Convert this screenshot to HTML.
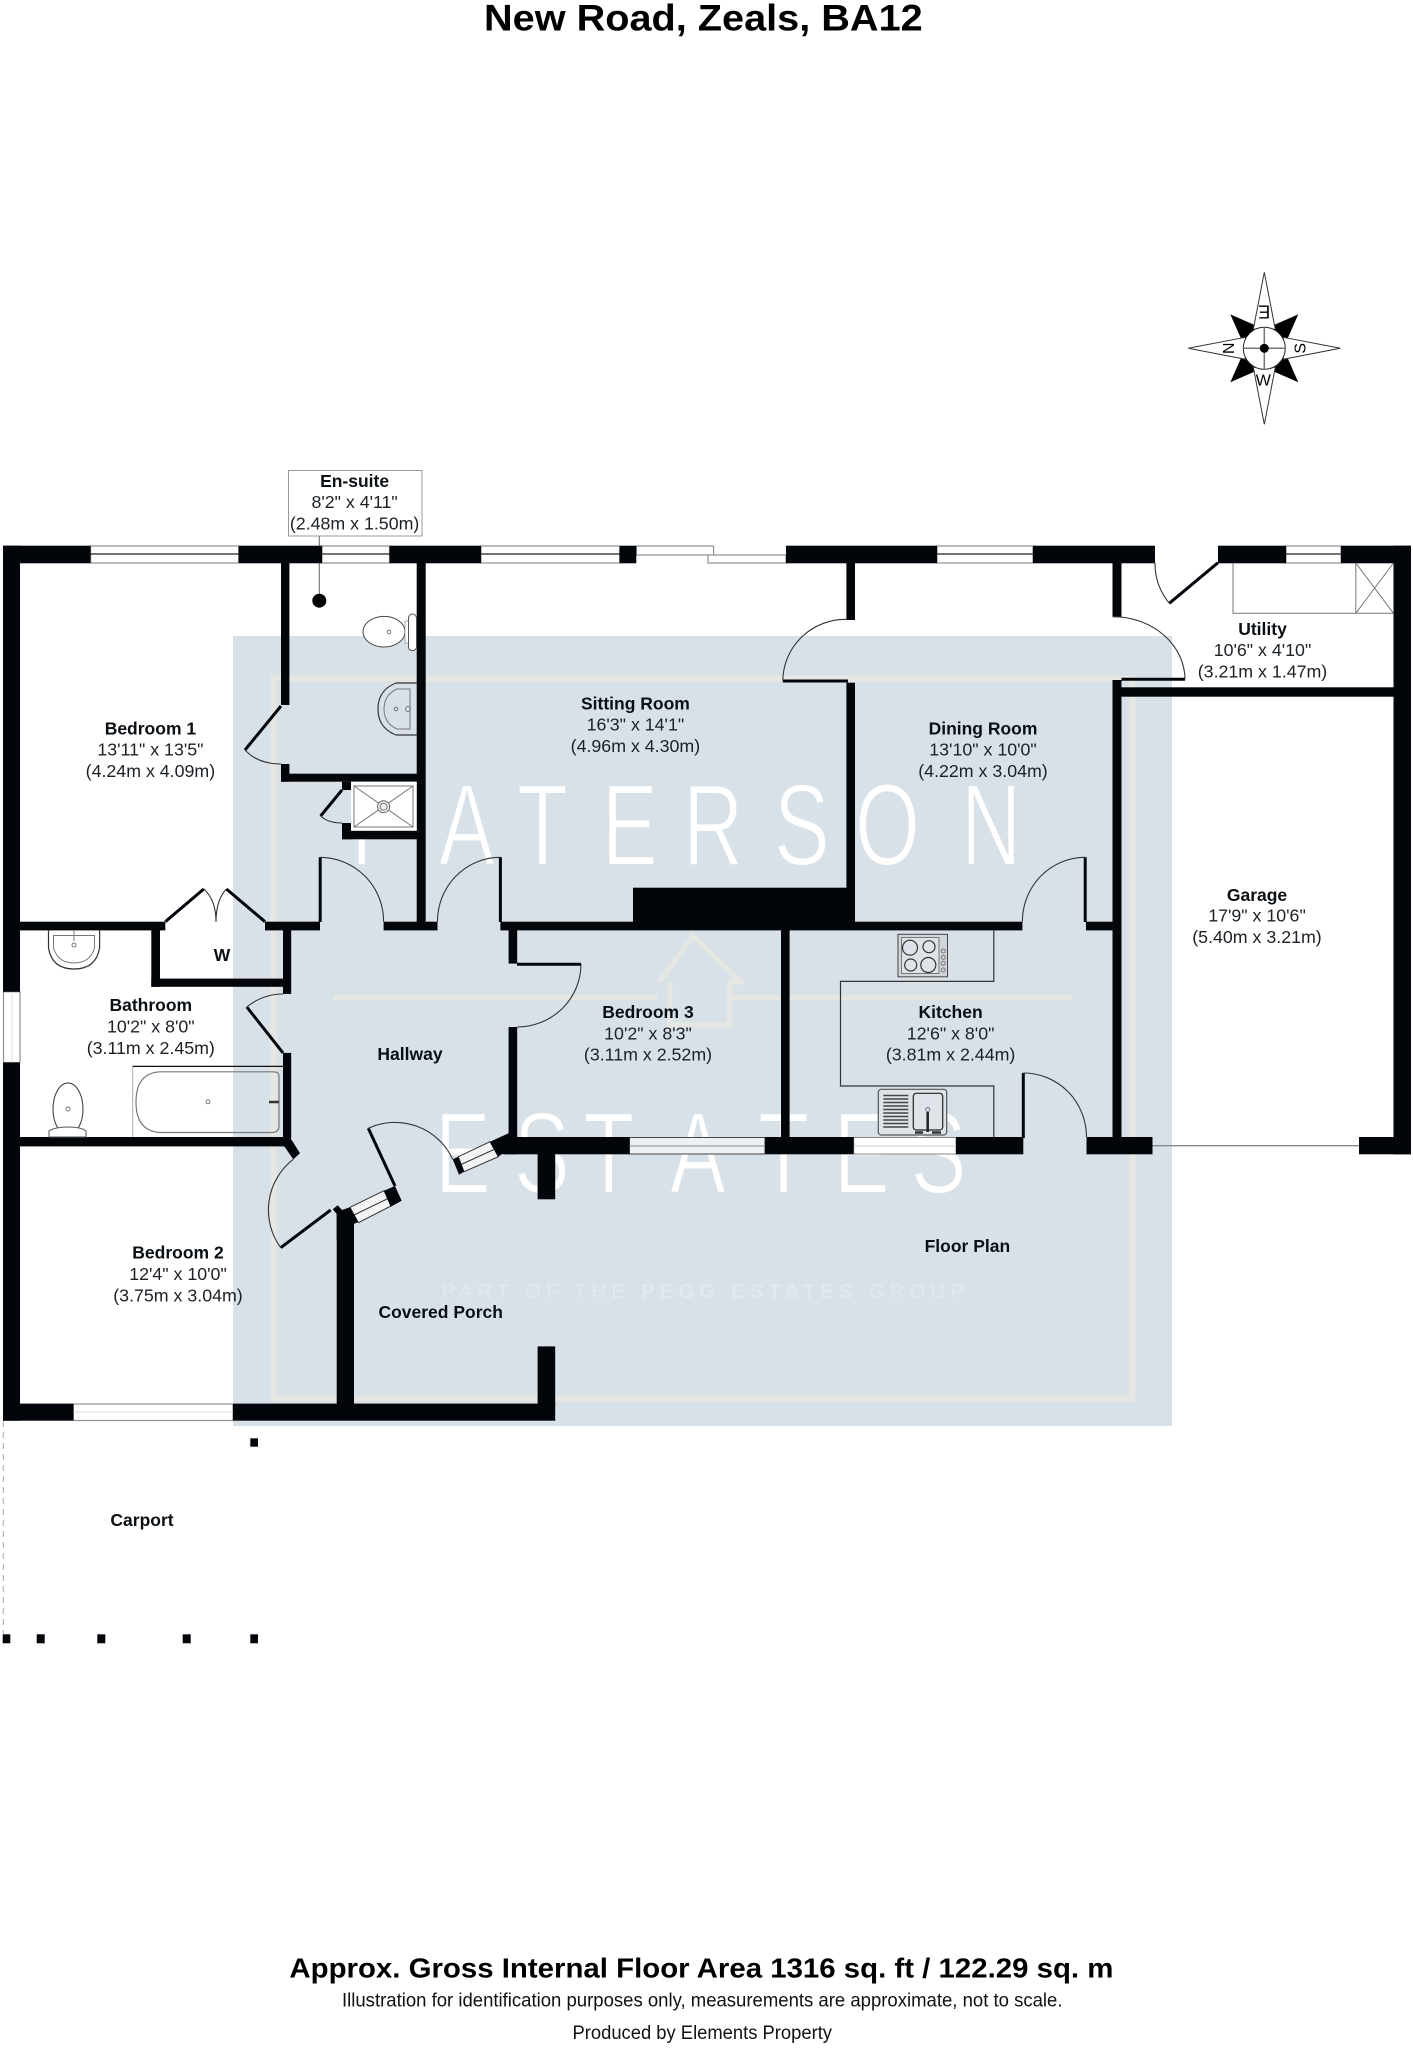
<!DOCTYPE html>
<html lang="en"><head><meta charset="utf-8"><title>New Road, Zeals, BA12</title>
<style>
html,body{margin:0;padding:0;background:#fff;width:1413px;height:2048px;overflow:hidden}
svg{display:block}
text{font-family:"Liberation Sans",sans-serif;fill:#0a0f14}
.n{font-weight:bold;font-size:17.5px;text-anchor:middle}
.d{font-size:17.8px;text-anchor:middle;fill:#1c2126}
.w{fill:#02060a}
.win{fill:#fff;stroke:#8d9194;stroke-width:1.2}
.m{stroke:#222;stroke-width:1.2;fill:none}
.arc{fill:none;stroke:#333;stroke-width:1.1}
.leaf{fill:none;stroke:#02060a;stroke-width:3}
.g{fill:none;stroke:#777;stroke-width:1}
.k{fill:none;stroke:#333;stroke-width:1.2}
</style></head><body>
<svg xmlns="http://www.w3.org/2000/svg" width="1413" height="2048" viewBox="0 0 1413 2048">
<rect width="1413" height="2048" fill="#fff"/>

<!-- watermark -->
<rect x="233" y="636" width="939" height="790" fill="#d9e1e8"/>
<rect x="273.5" y="678.5" width="859" height="720" fill="none" stroke="#e6e6e2" stroke-width="6"/>
<path d="M333 997.5H657M659 982L693 936L741 982H729.6V1025H670V982M729.6 997.5H1072" fill="none" stroke="#e6e6e2" stroke-width="5"/>
<g transform="translate(0,865) scale(.72,1)"><text x="487.5 609.7 718 836 948.6 1075 1187.5 1334.7" y="0" font-size="116" style="fill:#fff;stroke:#d9e1e8;stroke-width:2">PATERSON</text></g>
<g transform="translate(0,1193) scale(.72,1)"><text x="604 714 810 930.5 1053 1158 1265" y="0" font-size="116" style="fill:#fff;stroke:#d9e1e8;stroke-width:2">ESTATES</text></g>
<text x="441.6" y="1298" font-size="20" textLength="522" style="fill:#e3e8ec">PART OF THE <tspan font-weight="bold">PEGG ESTATES</tspan> GROUP</text>

<!-- Title -->
<text x="484" y="30.7" font-size="37.5" font-weight="bold" textLength="438.7" lengthAdjust="spacingAndGlyphs" style="fill:#000">New Road, Zeals, BA12</text>

<!-- Compass -->
<g transform="translate(1264.3,348.3)">
<path d="M-33-33L-8-22L-22-8ZM33-33L8-22L22-8ZM-33 33L-8 22L-22 8ZM33 33L8 22L22 8Z" fill="#000" stroke="#000"/>
<path d="M0-76L11-19H-11ZM0 76L11 19H-11ZM-76 0L-19-11V11ZM76 0L19-11V11Z" fill="#fff" stroke="#333" stroke-width="1"/>
<circle r="21" fill="#fff" stroke="#222" stroke-width="1"/>
<path d="M-21 0H21M0-21V21" stroke="#777" stroke-width="1.5"/>
<circle r="4.5" fill="#000"/>
<text transform="translate(-36,0) rotate(90)" y="5.5" font-size="16" text-anchor="middle" style="fill:#000">N</text>
<text transform="translate(35.7,0) rotate(-90)" y="5.5" font-size="16" text-anchor="middle" style="fill:#000">S</text>
<text transform="translate(0,-36.6) rotate(180)" y="6" font-size="18" text-anchor="middle" style="fill:#000">E</text>
<text transform="translate(-1,31.7)" y="5.5" font-size="16" text-anchor="middle" style="fill:#000">W</text>
</g>

<!-- En-suite label box -->
<rect x="288.5" y="470.5" width="133.5" height="65.5" fill="#fff" stroke="#999" stroke-width="1"/>
<path d="M319.3 536V600" stroke="#666" stroke-width="1"/>
<circle cx="319.3" cy="600.7" r="7" fill="#000"/>

<!-- Windows -->
<rect class="win" x="90.6" y="546" width="148" height="17"/><path class="m" d="M90.6 554H238.7"/>
<rect class="win" x="322" y="546" width="67.5" height="17"/><path class="m" d="M322 554H389.5"/>
<rect class="win" x="481" y="546" width="138.6" height="17"/><path class="m" d="M481 554H619.6"/>
<rect class="win" x="937" y="546" width="96" height="17"/><path class="m" d="M937 554H1033"/>
<rect class="win" x="1286" y="546" width="55" height="17"/><path class="m" d="M1286 554H1341"/>
<rect class="win" x="636.3" y="546" width="77.3" height="9"/>
<rect class="win" x="708" y="555" width="78" height="8"/>
<rect class="win" x="3.5" y="991.8" width="16.5" height="70.7"/><path d="M12 991.8V1062.5" stroke="#ddd" stroke-width="1"/>
<rect class="win" x="73.4" y="1404" width="159.6" height="16.5" stroke="#aaa"/><path d="M73.4 1412H233" stroke="#ddd" stroke-width="1"/>
<rect x="629.5" y="1137.5" width="135.5" height="16.5" fill="#eef1f4" stroke="#444" stroke-width="1"/><path d="M629.5 1146H765" stroke="#888" stroke-width="1"/>
<rect x="853.7" y="1137.5" width="102.3" height="16.5" fill="#fff" stroke="#888" stroke-width="1"/><path d="M853.7 1146H956" stroke="#ccc" stroke-width="1"/>
<path d="M350 1207.3L384 1190.7L391 1206L358.3 1222.7Z" fill="#f2f4f6" stroke="#333" stroke-width="1"/><path d="M354 1215L388 1198.5" stroke="#333" stroke-width="1"/>
<path d="M458.3 1156.7L490 1141.7L498.3 1156.7L464 1171.7Z" fill="#f2f4f6" stroke="#333" stroke-width="1"/><path d="M461 1164.5L494 1149.5" stroke="#333" stroke-width="1"/>

<!-- Walls -->
<g class="w">
<rect x="3" y="545.7" width="87.6" height="17.6"/>
<rect x="238.7" y="545.7" width="83.3" height="17.6"/>
<rect x="389.5" y="545.7" width="91.5" height="17.6"/>
<rect x="619.6" y="545.7" width="16.7" height="17.6"/>
<rect x="786" y="545.7" width="151" height="17.6"/>
<rect x="1033" y="545.7" width="122" height="17.6"/>
<rect x="1218" y="545.7" width="68" height="17.6"/>
<rect x="1341" y="545.7" width="70" height="17.6"/>
<rect x="3" y="545.7" width="17" height="446.1"/>
<rect x="3" y="1062.5" width="17" height="358.2"/>
<rect x="1393.5" y="545.7" width="17.5" height="608.6"/>
<!-- bottom wall -->
<rect x="3" y="1403.6" width="70.4" height="17.1"/>
<rect x="233" y="1403.6" width="322.2" height="17.1"/>
<rect x="537.6" y="1346.4" width="17.6" height="60"/>
<rect x="537.6" y="1150" width="17.6" height="49.3"/>
<rect x="336.7" y="1215" width="17.3" height="190"/>
<!-- en-suite -->
<rect x="281" y="563" width="8.4" height="142"/>
<rect x="281" y="764" width="8.4" height="17.7"/>
<rect x="281" y="773.7" width="140" height="8"/>
<rect x="416.7" y="563" width="9" height="367"/>
<rect x="342" y="781.7" width="9" height="8.3"/>
<rect x="342" y="823" width="9" height="16.3"/>
<rect x="342" y="830.7" width="76" height="8.6"/>
<!-- corridor wall -->
<rect x="20" y="921.7" width="145.3" height="8.7"/>
<rect x="265" y="921.7" width="55" height="8.7"/>
<rect x="383.6" y="921.7" width="53.9" height="8.7"/>
<rect x="500.4" y="921.7" width="522" height="8.7"/>
<rect x="633" y="887.7" width="221.6" height="42"/>
<rect x="1086" y="921.7" width="27" height="8.7"/>
<rect x="846.4" y="563" width="8.6" height="57"/>
<rect x="846.4" y="682.7" width="8.6" height="240"/>
<rect x="1112.5" y="563" width="9" height="53.7"/>
<rect x="1112.5" y="680" width="9" height="460"/>
<rect x="1112.5" y="687.3" width="285" height="9.4"/>
<rect x="781" y="930" width="8.6" height="210"/>
<!-- W cupboard -->
<rect x="151.3" y="930" width="8.7" height="56.8"/>
<rect x="151.3" y="978.6" width="135" height="8.2"/>
<rect x="283" y="930" width="8.2" height="64"/>
<rect x="283" y="1052.9" width="8.2" height="93"/>
<rect x="20" y="1137" width="271" height="9.4"/>
<rect x="508.6" y="930" width="8.6" height="33.6"/>
<rect x="508.6" y="1027" width="8.6" height="112"/>
<!-- bottom main wall -->
<rect x="505" y="1137" width="124.5" height="17.3"/>
<rect x="765" y="1137" width="88.7" height="17.3"/>
<rect x="956" y="1137" width="67.3" height="17.3"/>
<rect x="1086.5" y="1137" width="66" height="17.3"/>
<rect x="1359" y="1137" width="52" height="17.3"/>
<polygon points="283.3,1145 291.7,1140 300,1153.3 293.3,1159.3"/>
<polygon points="332.7,1209.3 337.7,1205.3 342,1210 350,1207.3 358.3,1221.7 354,1224 354,1240 336.7,1240 336.7,1214"/>
<polygon points="384,1190.7 395,1186 401.7,1200.7 390.7,1206.7"/>
<polygon points="452.7,1159.3 458.3,1156.7 464,1171.7 459,1174.7"/>
<polygon points="490,1141.7 508.6,1133.3 517,1133.3 517,1154.3 501.7,1154.3 498.3,1156.7"/>
<!-- carport posts -->
<rect x="250.3" y="1438.3" width="7.7" height="8.4"/>
<rect x="2.7" y="1634.3" width="7.6" height="9"/>
<rect x="36.7" y="1634.3" width="8" height="9"/>
<rect x="97.3" y="1634.3" width="8" height="9"/>
<rect x="182.7" y="1634.3" width="8" height="9"/>
<rect x="250.3" y="1634.3" width="7.7" height="9"/>
</g>
<path d="M3.3 1421V1634" stroke="#aaa" stroke-width="1" stroke-dasharray="6 5"/>
<path d="M1152.5 1145.7H1359" stroke="#888" stroke-width="1.3"/>

<!-- Doors -->
<path class="leaf" d="M281 706L245 750"/><path class="arc" d="M245 750Q258 764 281 764"/>
<path class="leaf" d="M342 790L320.6 816"/><path class="arc" d="M320.6 816Q328 823 342 823"/>
<path class="leaf" d="M165.3 921.7L203.8 889M226.4 889L265 921.7"/>
<path class="arc" d="M203.8 889Q216 900 216 921.7M226.4 889Q216 900 216 921.7"/>
<path class="leaf" d="M320.2 857.3V922"/><path class="arc" d="M320.2 857.3A64 64 0 0 1 383.6 921.7"/>
<path class="leaf" d="M500.4 857.3V922"/><path class="arc" d="M500.4 857.3A63 64 0 0 0 437.5 921.7"/>
<path class="leaf" d="M782.8 681H848"/><path class="arc" d="M846.4 619.3A63 62 0 0 0 782.8 680.7"/>
<path class="leaf" d="M1121.5 679.3H1185"/><path class="arc" d="M1112.5 616.7A72 63 0 0 1 1185 679.3"/>
<path class="leaf" d="M1218 562.7L1169.3 603.3"/><path class="arc" d="M1169.3 603.3A63 63 0 0 1 1155 563"/>
<path class="leaf" d="M1085.2 857.3V922" /><path class="arc" d="M1085.2 857.3A63 64 0 0 0 1022.4 921.7"/>
<path class="leaf" d="M1023.3 1073V1138"/><path class="arc" d="M1023.3 1073A63 64 0 0 1 1086.5 1137"/>
<path class="leaf" d="M283 1052.9L246.8 1007"/><path class="arc" d="M246.8 1007A58 58 0 0 1 283 994"/>
<path class="leaf" d="M517 964.3H581"/><path class="arc" d="M581 964.3A64 63 0 0 1 517.2 1027"/>
<path class="leaf" d="M280.7 1247.7L330.7 1210"/><path class="arc" d="M293.3 1159.3A64 64 0 0 0 280.7 1247.7"/>
<path class="leaf" d="M395 1186L368.3 1128.3"/><path class="arc" d="M368.3 1128.3A63.5 63.5 0 0 1 452.7 1159.3"/>

<!-- Shower -->
<rect x="351" y="781.7" width="65.7" height="49" fill="#fff"/>
<rect x="354" y="786" width="59" height="41" class="g"/>
<path class="g" d="M354 786L413 827M413 786L354 827"/>
<circle cx="383.6" cy="806.7" r="6" fill="#eee" stroke="#666"/><circle cx="383.6" cy="806.7" r="3.5" class="g"/>

<!-- En-suite toilet and basin -->
<ellipse cx="384" cy="631.7" rx="21" ry="15.3" fill="#fff" stroke="#444"/>
<rect x="405" y="621" width="3.5" height="22" fill="#fff" stroke="#888" stroke-width=".7"/>
<rect x="408.5" y="614" width="8" height="36.7" rx="4" fill="#fff" stroke="#555"/>
<circle cx="389" cy="632" r="1.8" class="g"/>
<path class="k" d="M416.7 683H396Q378 690 378 709T396 735H416.7"/>
<path class="g" d="M410 689H397Q384 695 384 709T397 729H410Z"/>
<circle cx="396" cy="709" r="1.8" class="g"/><circle cx="408" cy="709" r="2.5" class="g"/>

<!-- Bathroom fittings -->
<path class="k" d="M48.5 930.4V948Q52 969 74 969T99.6 948V930.4"/>
<path class="g" d="M53.5 935.5H94.5V948Q90 963 74 963T53.5 948Z"/>
<circle cx="74" cy="945" r="2" class="g"/><path class="g" d="M74 930V941"/>
<ellipse cx="68" cy="1109" rx="15" ry="26" fill="#fff" stroke="#333"/>
<circle cx="68" cy="1109" r="2" class="g"/>
<path d="M49 1137V1131Q55 1127 68 1127T86 1131V1137Z" fill="#fff" stroke="#555"/>
<path d="M132.7 1137V1066.4" stroke="#aaa" stroke-width="1"/>
<path d="M132.7 1066.4H283" stroke="#111" stroke-width="1.3"/>
<path d="M279 1076Q279 1071.8 273 1071.8H160Q136 1073 136 1102T160 1132.5H272Q279 1132.5 279 1126Z" fill="none" stroke="#777" stroke-width="1.2"/>
<circle cx="208" cy="1101.8" r="2" class="g"/>
<path d="M269 1102H279" stroke="#333" stroke-width="2.5"/>

<!-- Kitchen -->
<path class="k" d="M993.8 930V981.4H840.5V1086H993.8V1137"/>
<rect x="898" y="934.3" width="49.5" height="42.5" fill="#d0d6db" stroke="#444" stroke-width="1"/>
<rect x="901.5" y="937.5" width="37.5" height="36" fill="#dde3e8" stroke="#777" stroke-width="1"/>
<circle cx="910" cy="947.7" r="7.5" class="k"/><circle cx="929" cy="946.7" r="6" class="k"/>
<circle cx="910.7" cy="965" r="6" class="k"/><circle cx="928.3" cy="965" r="7.5" class="k"/>
<circle cx="943.3" cy="951" r="2" class="g"/><circle cx="943.3" cy="957.3" r="2" class="g"/><circle cx="943.3" cy="963.3" r="2" class="g"/><circle cx="943.3" cy="970" r="2" class="g"/>
<rect x="878.3" y="1089.3" width="68.4" height="45.7" rx="3" fill="#dde3e8" stroke="#555" stroke-width="1.2"/>
<path d="M883.3 1095.5H908.3M883.3 1099H908.3M883.3 1102.5H908.3M883.3 1106H908.3M883.3 1109.5H908.3M883.3 1113H908.3M883.3 1116.5H908.3M883.3 1120H908.3M883.3 1123.5H908.3M883.3 1127H908.3" stroke="#444" stroke-width="1.5"/>
<rect x="913.3" y="1093.3" width="29.4" height="36.7" rx="3" fill="none" stroke="#222" stroke-width="1.2"/>
<path d="M927.7 1112V1132" stroke="#222" stroke-width="2.5"/><circle cx="927.7" cy="1109.5" r="2" class="g"/>
<path d="M915 1132.5H923M932 1132.5H941" stroke="#333" stroke-width="2.5"/>

<!-- Utility -->
<path class="g" d="M1233 563V613.3H1393.5M1355.8 563V613.3M1355.8 563L1393.5 613.3M1393.5 563L1355.8 613.3"/>

<!-- Labels -->
<text class="n" x="354.6" y="487">En-suite</text><text class="d" x="354.6" y="508">8'2" x 4'11"</text><text class="d" x="354.6" y="529.5">(2.48m x 1.50m)</text>
<text class="n" x="150.4" y="734.5">Bedroom 1</text><text class="d" x="150.4" y="755.5">13'11" x 13'5"</text><text class="d" x="150.4" y="777">(4.24m x 4.09m)</text>
<text class="n" x="635.4" y="709.5">Sitting Room</text><text class="d" x="635.4" y="730.5">16'3" x 14'1"</text><text class="d" x="635.4" y="752">(4.96m x 4.30m)</text>
<text class="n" x="983" y="734.5">Dining Room</text><text class="d" x="983" y="755.5">13'10" x 10'0"</text><text class="d" x="983" y="777">(4.22m x 3.04m)</text>
<text class="n" x="1262.5" y="635">Utility</text><text class="d" x="1262.5" y="656">10'6" x 4'10"</text><text class="d" x="1262.5" y="677.5">(3.21m x 1.47m)</text>
<text class="n" x="1257" y="901">Garage</text><text class="d" x="1257" y="921.5">17'9" x 10'6"</text><text class="d" x="1257" y="943">(5.40m x 3.21m)</text>
<text class="n" x="150.8" y="1011">Bathroom</text><text class="d" x="150.8" y="1032.5">10'2" x 8'0"</text><text class="d" x="150.8" y="1054">(3.11m x 2.45m)</text>
<text class="n" x="222" y="961">W</text>
<text class="n" x="410" y="1060">Hallway</text>
<text class="n" x="648" y="1018">Bedroom 3</text><text class="d" x="648" y="1039.5">10'2" x 8'3"</text><text class="d" x="648" y="1060.5">(3.11m x 2.52m)</text>
<text class="n" x="950.6" y="1018">Kitchen</text><text class="d" x="950.6" y="1039.5">12'6" x 8'0"</text><text class="d" x="950.6" y="1060.5">(3.81m x 2.44m)</text>
<text class="n" x="178" y="1258.5">Bedroom 2</text><text class="d" x="178" y="1280">12'4" x 10'0"</text><text class="d" x="178" y="1301.5">(3.75m x 3.04m)</text>
<text class="n" x="440.7" y="1318">Covered Porch</text>
<text class="n" x="967.4" y="1252">Floor Plan</text>
<text class="n" x="142" y="1526">Carport</text>

<!-- Footer -->
<text x="289.4" y="1977.7" font-size="28" font-weight="bold" textLength="824" lengthAdjust="spacingAndGlyphs" style="fill:#000">Approx. Gross Internal Floor Area 1316 sq. ft / 122.29 sq. m</text>
<text x="342" y="2006.7" font-size="19.5" textLength="720.5" lengthAdjust="spacingAndGlyphs" style="fill:#111">Illustration for identification purposes only, measurements are approximate, not to scale.</text>
<text x="572.5" y="2039" font-size="19.5" textLength="259.5" lengthAdjust="spacingAndGlyphs" style="fill:#111">Produced by Elements Property</text>
</svg>
</body></html>
